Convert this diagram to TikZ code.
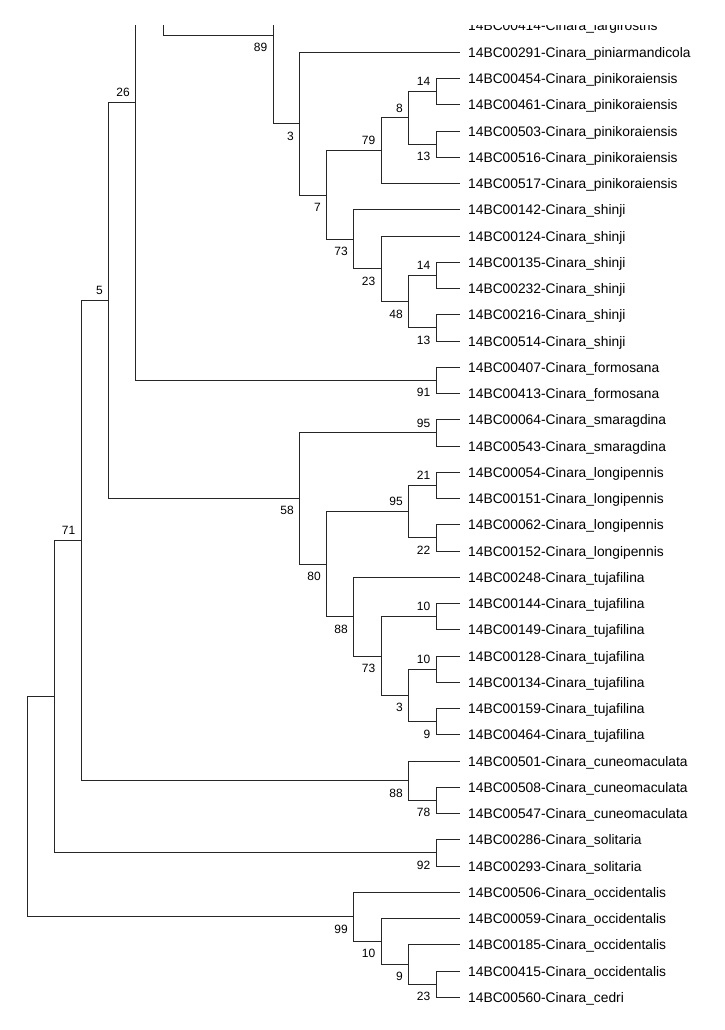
\documentclass[tikz,border=0pt]{standalone}
\usepackage{fontspec}
\setmainfont{Liberation Sans}
\tikzset{
  branch/.style={line width=0.9pt, black!85},
  tip/.style={anchor=base west, inner sep=0pt, font=\fontsize{13.8}{16}\selectfont},
  boot/.style={anchor=east, inner sep=0pt, xshift=-5.5pt, font=\fontsize{12}{14}\selectfont},
  bootup/.style={boot, yshift=10pt},
  bootdn/.style={boot, yshift=-12.3pt},
}

\begin{document}
\begin{tikzpicture}[x=1pt, y=-1pt]
  \useasboundingbox (0,0) rectangle (724,1030);
  \begin{scope}
  \clip (0,26) rectangle (724,1030);
  % leaves
  \foreach \i/\lbl in {0/14BC00414-Cinara\_largirostris, 1/14BC00291-Cinara\_piniarmandicola,
      2/14BC00454-Cinara\_pinikoraiensis, 3/14BC00461-Cinara\_pinikoraiensis,
      4/14BC00503-Cinara\_pinikoraiensis, 5/14BC00516-Cinara\_pinikoraiensis,
      6/14BC00517-Cinara\_pinikoraiensis, 7/14BC00142-Cinara\_shinji,
      8/14BC00124-Cinara\_shinji, 9/14BC00135-Cinara\_shinji, 10/14BC00232-Cinara\_shinji,
      11/14BC00216-Cinara\_shinji, 12/14BC00514-Cinara\_shinji,
      13/14BC00407-Cinara\_formosana, 14/14BC00413-Cinara\_formosana,
      15/14BC00064-Cinara\_smaragdina, 16/14BC00543-Cinara\_smaragdina,
      17/14BC00054-Cinara\_longipennis, 18/14BC00151-Cinara\_longipennis,
      19/14BC00062-Cinara\_longipennis, 20/14BC00152-Cinara\_longipennis,
      21/14BC00248-Cinara\_tujafilina, 22/14BC00144-Cinara\_tujafilina,
      23/14BC00149-Cinara\_tujafilina, 24/14BC00128-Cinara\_tujafilina,
      25/14BC00134-Cinara\_tujafilina, 26/14BC00159-Cinara\_tujafilina,
      27/14BC00464-Cinara\_tujafilina, 28/14BC00501-Cinara\_cuneomaculata,
      29/14BC00508-Cinara\_cuneomaculata, 30/14BC00547-Cinara\_cuneomaculata,
      31/14BC00286-Cinara\_solitaria, 32/14BC00293-Cinara\_solitaria,
      33/14BC00506-Cinara\_occidentalis, 34/14BC00059-Cinara\_occidentalis,
      35/14BC00185-Cinara\_occidentalis, 36/14BC00415-Cinara\_occidentalis,
      37/14BC00560-Cinara\_cedri} {
    \coordinate (l\i) at (460, 26+26.25*\i);
    \node[tip] (t\i) at (468, 31+26.25*\i) {\lbl};
  }
  % internal nodes (nA, h89 lie above the cut)
  \foreach \nm/\x/\y in {root/27/806.8, nIng/54/696.67, n71/81/540.47, n5/108.5/300.25,
      n26/135.5/102, nA/163/-176.4, n89/273/35, h89/299.5/-53.6, n3a/299.5/123.62,
      n7/326.5/194.99, n79/381/150.69, n8/408.5/117.88, n14a/436/91.63, n13a/436/144.13,
      n73a/353.5/239.28, n23/381/268.81, n48/408.5/301.63, n14b/436/275.38,
      n13b/436/327.88, n91/436/380.38, n58/299.5/498.5, n95a/436/432.88,
      n80/326.5/564.13, n95b/408.5/511.63, n21/436/485.38, n22/436/537.88,
      n88a/353.5/616.63, n73b/381/656, n10a/436/616.63, n3b/408.5/695.38,
      n10b/436/669.13, n9a/436/721.63, n88b/408.5/780.69, n78/436/800.38,
      n92/436/852.88, n99/353.5/916.86, n10c/381/941.47, n9b/408.5/964.44,
      n23c/436/984.13}
    \coordinate (\nm) at (\x,\y);
  % branches
  \foreach \p/\c in {root/nIng, root/n99, nIng/n71, nIng/n92, n71/n5, n71/n88b,
      n5/n26, n5/n58, n26/nA, n26/n91, nA/n89, n89/h89, n89/n3a,
      n3a/l1, n3a/n7, n7/n79, n7/n73a, n79/n8, n79/l6, n8/n14a, n8/n13a,
      n14a/l2, n14a/l3, n13a/l4, n13a/l5, n73a/l7, n73a/n23, n23/l8, n23/n48,
      n48/n14b, n48/n13b, n14b/l9, n14b/l10, n13b/l11, n13b/l12, n91/l13, n91/l14,
      n58/n95a, n58/n80, n95a/l15, n95a/l16, n80/n95b, n80/n88a,
      n95b/n21, n95b/n22, n21/l17, n21/l18, n22/l19, n22/l20,
      n88a/l21, n88a/n73b, n73b/n10a, n73b/n3b, n10a/l22, n10a/l23,
      n3b/n10b, n3b/n9a, n10b/l24, n10b/l25, n9a/l26, n9a/l27,
      n88b/l28, n88b/n78, n78/l29, n78/l30, n92/l31, n92/l32,
      n99/l33, n99/n10c, n10c/l34, n10c/n9b, n9b/l35, n9b/n23c,
      n23c/l36, n23c/l37}
    \draw[branch] (\p) |- (\c);
  % bootstrap values
  \foreach \nm/\bs in {n79/79, n8/8, n14a/14, n14b/14, n26/26, n5/5, n95a/95,
      n95b/95, n21/21, n10a/10, n10b/10, n71/71}
    \node[bootup] (b-\nm) at (\nm) {\bs};
  \foreach \nm/\bs in {n89/89, n3a/3, n7/7, n13a/13, n73a/73, n23/23, n48/48,
      n13b/13, n91/91, n58/58, n80/80, n22/22, n88a/88, n73b/73, n3b/3, n9a/9,
      n88b/88, n78/78, n92/92, n99/99, n10c/10, n9b/9, n23c/23}
    \node[bootdn] (b-\nm) at (\nm) {\bs};
  \end{scope}
\end{tikzpicture}
\end{document}
